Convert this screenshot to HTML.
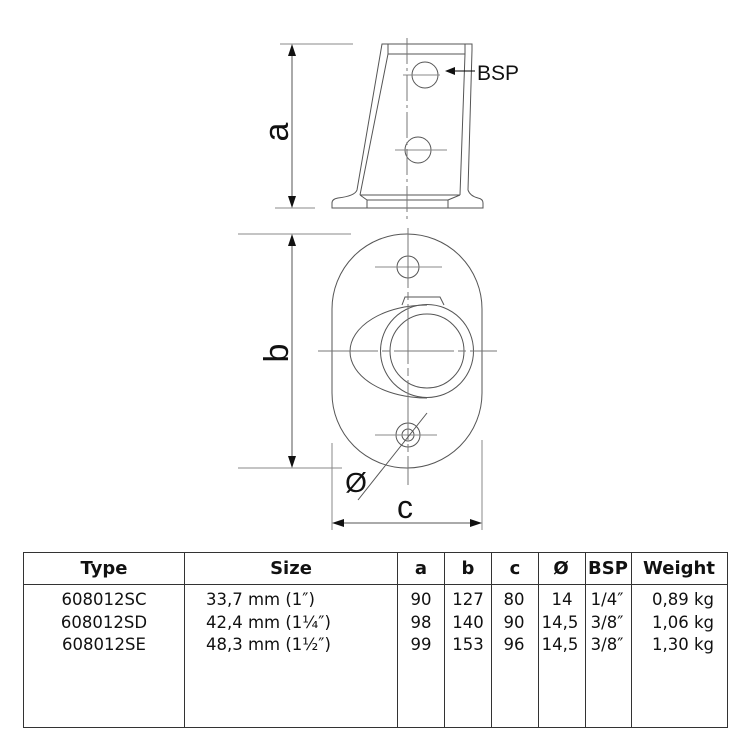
<html><body style="margin:0;background:#fff">
<svg width="750" height="750" viewBox="0 0 750 750" xmlns="http://www.w3.org/2000/svg" style="position:absolute;left:0;top:0">
<g fill="none" stroke="#555" stroke-width="1">
<line x1="280" y1="44" x2="353" y2="44" stroke="#888"/>
<line x1="275" y1="208" x2="315" y2="208" stroke="#888"/>
<line x1="292" y1="50" x2="292" y2="202"/>
<path d="M382,44 L472,44 L472,50 L468,190 Q470,196 478,198 Q483,199 483,203 L483,208 L332,208 L332,203 Q332,199 338,198 Q355,196 357,190 Z"/>
<path d="M388,44 L388,54 L465,54 L465,44 M388,54 L360,195 M465,54 L460,195 M360,195 L460,195 M367,200 L448,200 M367,200 L367,208 M448,200 L448,208 M360,195 L367,200 M460,195 L448,200"/>
<circle cx="425" cy="75" r="13"/>
<circle cx="418" cy="150" r="13"/>
<line x1="403" y1="75" x2="440" y2="75" stroke="#888"/>
<line x1="395" y1="150" x2="447" y2="150" stroke="#888"/>
<line x1="407" y1="38" x2="407" y2="222" stroke="#777" stroke-dasharray="26,4,3,4"/>
<line x1="448" y1="71" x2="475" y2="71" stroke="#000"/>
<line x1="238" y1="234" x2="351" y2="234" stroke="#888"/>
<line x1="238" y1="468" x2="342" y2="468" stroke="#888"/>
<line x1="292" y1="240" x2="292" y2="462"/>
<path d="M332,309 A75,75 0 0 1 482,309 L482,393 A75,75 0 0 1 332,393 Z"/>
<circle cx="408" cy="267" r="11"/>
<line x1="375" y1="267" x2="442" y2="267" stroke="#888"/>
<path d="M427,305 A77,46.5 0 0 0 427,398"/>
<circle cx="427" cy="351" r="46.5"/>
<circle cx="427" cy="351" r="37"/>
<path d="M402,305 L405,297 L440,297 L444,305"/>
<circle cx="408" cy="435" r="12"/>
<circle cx="408" cy="435" r="6"/>
<line x1="375" y1="435" x2="437" y2="435" stroke="#888"/>
<line x1="318" y1="351" x2="497" y2="351" stroke="#777" stroke-dasharray="60,4,8,4"/>
<line x1="408" y1="228" x2="408" y2="485" stroke="#777" stroke-dasharray="60,4,8,4"/>
<line x1="427" y1="413" x2="358" y2="500" stroke="#555"/>
<line x1="332" y1="443" x2="332" y2="530" stroke="#888"/>
<line x1="482" y1="440" x2="482" y2="530" stroke="#888"/>
<line x1="338" y1="523" x2="476" y2="523"/>
</g>
<g fill="#111">
<path d="M292,44 l-4,12 l8,0 Z"/><path d="M292,208 l-4,-12 l8,0 Z"/>
<path d="M292,234 l-4,12 l8,0 Z"/><path d="M292,468 l-4,-12 l8,0 Z"/>
<path d="M332,523 l12,-4 l0,8 Z"/><path d="M482,523 l-12,-4 l0,8 Z"/>
<path d="M445,71 l10,-4 l0,8 Z"/>
</g>
<g font-family="Liberation Sans, sans-serif" fill="#111">
<text x="477" y="80" font-size="21">BSP</text>
<text transform="translate(288,132) rotate(-90)" font-size="34" text-anchor="middle">a</text>
<text transform="translate(288,353) rotate(-90)" font-size="34" text-anchor="middle">b</text>
<text x="405" y="518" font-size="32" text-anchor="middle">c</text>
<text x="356" y="492" font-size="28" text-anchor="middle">Ø</text>
</g>
<g stroke="#333" stroke-width="1" fill="none">
<rect x="23.5" y="552.5" width="704" height="175"/>
<line x1="23" y1="584.5" x2="728" y2="584.5"/>
<line x1="184.5" y1="552" x2="184.5" y2="728"/>
<line x1="397.5" y1="552" x2="397.5" y2="728"/>
<line x1="444.5" y1="552" x2="444.5" y2="728"/>
<line x1="491.5" y1="552" x2="491.5" y2="728"/>
<line x1="538.5" y1="552" x2="538.5" y2="728"/>
<line x1="585.5" y1="552" x2="585.5" y2="728"/>
<line x1="631.5" y1="552" x2="631.5" y2="728"/>
</g>
<g font-family="DejaVu Sans, sans-serif" fill="#111" font-size="16.5">
<g font-weight="bold" font-size="18" text-anchor="middle">
<text x="104" y="574">Type</text><text x="291" y="574">Size</text>
<text x="421" y="574">a</text><text x="468" y="574">b</text><text x="515" y="574">c</text>
<text x="561" y="574">Ø</text><text x="608" y="574">BSP</text><text x="679" y="574">Weight</text>
</g>
<g text-anchor="middle">
<text x="104" y="605">608012SC</text><text x="104" y="628">608012SD</text><text x="104" y="650">608012SE</text>
<text x="421" y="605">90</text><text x="421" y="628">98</text><text x="421" y="650">99</text>
<text x="468" y="605">127</text><text x="468" y="628">140</text><text x="468" y="650">153</text>
<text x="514" y="605">80</text><text x="514" y="628">90</text><text x="514" y="650">96</text>
<text x="562" y="605">14</text><text x="560" y="628">14,5</text><text x="560" y="650">14,5</text>
<text x="607" y="605">1/4″</text><text x="607" y="628">3/8″</text><text x="607" y="650">3/8″</text>
</g>
<text x="206" y="605">33,7 mm (1″)</text><text x="206" y="628">42,4 mm (1¼″)</text><text x="206" y="650">48,3 mm (1½″)</text>
<g text-anchor="end">
<text x="714" y="605">0,89 kg</text><text x="714" y="628">1,06 kg</text><text x="714" y="650">1,30 kg</text>
</g>
</g>
</svg>
</body></html>
